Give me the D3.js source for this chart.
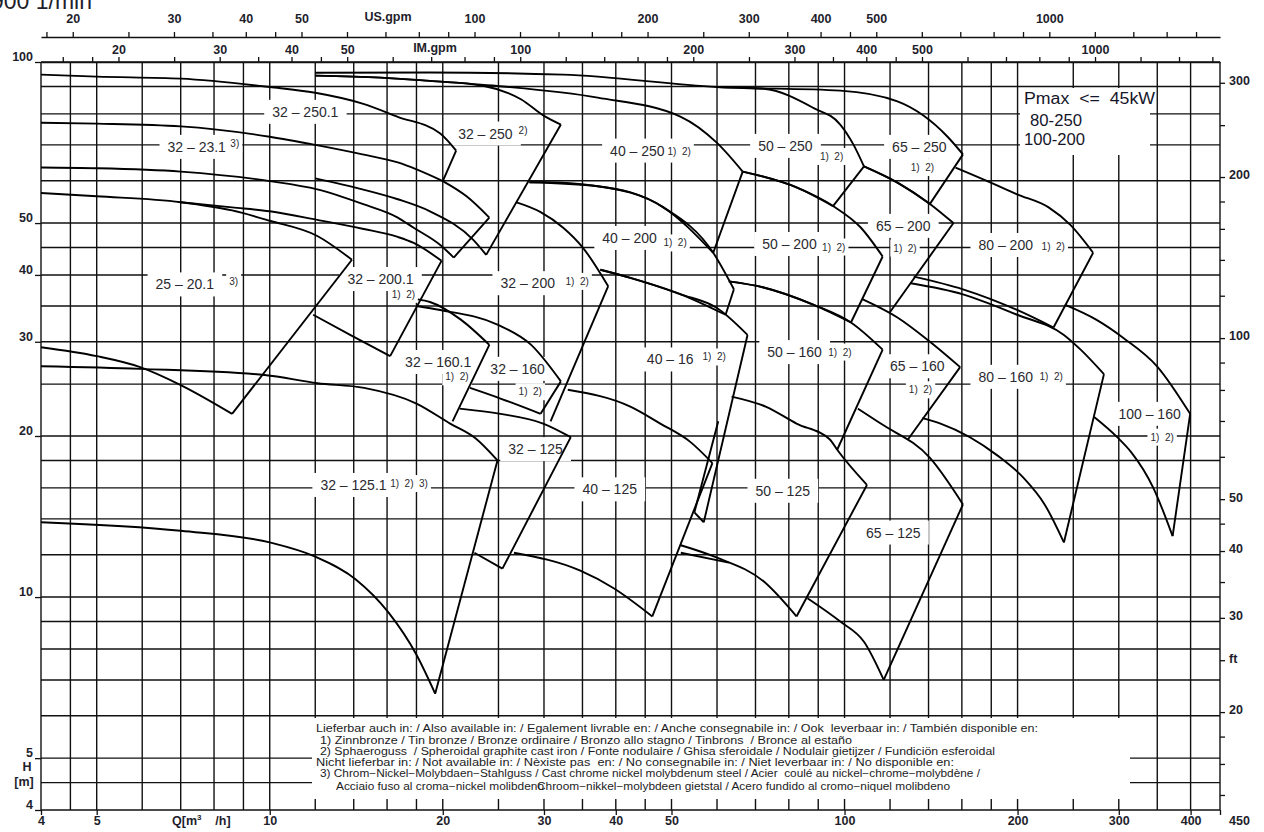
<!DOCTYPE html>
<html>
<head>
<meta charset="utf-8">
<script src="https://cdn.jsdelivr.net/npm/d3@7"></script>
<style>
  html, body { margin: 0; padding: 0; background: #fff; }
  svg { display: block; }
  text { font-family: "Liberation Sans", Arial, Helvetica, sans-serif; }
</style>
</head>
<body>
<svg id="chart" width="1264" height="832"></svg>
<script>
// ---- axis / grid values ----
const qGrid = [4,4.5,5,6,7,8,9,10,12,14,16,18,20,25,30,35,40,45,50,60,70,80,90,100,120,140,160,180,200,250,300,350,400,450];
const hGrid = [4,4.5,5,6,7,8,9,10,12,14,16,18,20,25,30,35,40,45,50,60,70,80,90,100];
const qTickLabels = [4,5,10,20,30,40,50,100,200,300,400,450];
const hTickLabels = [4,5,10,20,30,40,50,100];
const ftTicks = [14,16,18,20,25,30,35,40,45,50,60,70,80,90,100,120,140,160,180,200,250,300];
const ftTickLabels = [20,30,40,50,100,200,300];
const usGpmTicks = [18,20,25,30,35,40,45,50,60,70,80,90,100,120,140,160,180,200,250,300,350,400,450,500,600,700,800,900,1000,1200,1400,1600,1800];
const usGpmLabels = [20,30,40,50,100,200,300,400,500,1000];
const imGpmTicks = [16,18,20,25,30,35,40,45,50,60,70,80,90,100,120,140,160,180,200,250,300,350,400,450,500,600,700,800,900,1000,1200,1400,1600];
const imGpmLabels = [20,30,40,50,100,200,300,400,500,1000];

// ---- pump ranges: top = max impeller (Q m3/h, H m), bottom = min impeller ----
const tiles32 = [
  {name:"32-250.1", top:[[4,94.7],[5,93.9],[7,93.1],[10,89.8],[12,87.6],[14.5,83.6],[16.7,79.0],[19.8,73.5],[21.1,68.3]],
                    bottom:[[4,77],[5,76.7],[7,75.8],[10,72.5],[12,70],[14.5,67.2],[16.7,64.9],[20,59.9]]},
  {name:"32-23.1",  top:[[20,59.9],[22,56.1],[24.1,51.2]],
                    bottom:[[4,63.5],[5,63.3],[7,62.4],[10,59.9],[12.1,57.8],[14.5,54.3],[16.7,51.2],[17.8,49],[19.8,45.5],[20.9,43.1]]},
  {name:"25-20.1",  top:[[4,56.9],[5,56.1],[7,54.7],[8.6,52.8],[10,50.5],[12.1,47.3],[13.9,42.7]],
                    bottom:[[4,29.3],[5,28.2],[5.95,26.9],[7,24.9],[8.6,22]]},
  {name:"32-200.1", top:[[7,54.7],[8.6,53.5],[10,52.6],[12.1,50.7],[14.5,48.8],[16.7,47.1],[17.8,45.9],[19.9,42.5]],
                    bottom:[[11.9,33.7],[13.8,30.9],[16.2,28.2]]},
  {name:"32-250",   top:[[12,94.3],[15.6,93.5],[19,92.2],[23.6,90.2],[27.4,85.1],[30,79.3],[32.1,76.4]],
                    bottom:[[12,60.6],[14.5,57.8],[16.7,55.4],[19,52.6],[22.6,46.5],[23.8,43.6]]},
  {name:"32-200",   top:[[26.8,54.7],[29.6,52.4],[32.4,49],[35.1,44.9],[38.8,38.1]],
                    bottom:[[30.8,21.3]]},
  {name:"32-160.1", top:[[18.1,36],[19,35.6],[21.5,33],[24.1,29.6]],
                    bottom:[[20.8,21.3]]},
  {name:"32-160",   top:[[18,35],[19.8,34.4],[24.9,32.3],[28.5,29.6],[32.1,25.3]],
                    bottom:[[22.3,24.6],[25.2,23.5],[29.6,22]]},
  {name:"32-125.1", top:[[4,27],[5.95,26.7],[9.8,26],[12.1,25.1],[14.6,24.6],[18,23],[20.6,21.1],[22.8,19.8],[24.9,18]],
                    bottom:[[4,13.8],[7,13.3],[10,12.65],[12,11.9],[14.1,10.8],[16.1,9.35],[18,7.8],[19.4,6.6]]},
  {name:"32-125",   top:[[21.4,22.5],[25.2,22],[29.9,21.1],[33.4,19.9]],
                    bottom:[[22.7,12.1],[25.4,11.3]]}
];
const tiles40 = [
  {name:"40-250", top:[[12,94.3],[15.6,93.5],[19,92.2],[24.9,90.2],[37.2,85.8],[51.9,79],[60,70.6],[66.5,62.4]],
                  bottom:[[28.3,59.6],[29.9,59.6],[37.2,58.6],[48.4,53.5],[59.1,44]]},
  {name:"40-200", top:[[28.3,59.6],[37.2,58.6],[48.4,53.5],[59.1,44],[64.2,37.6]],
                  bottom:[[37.6,40.9],[42.4,39.5],[51.9,36.8],[62.1,33.7]]},
  {name:"40-160", top:[[37.6,40.9],[42.4,39.5],[51.9,36.8],[60,34.7],[67.8,30.9]],
                  bottom:[[54.8,14.4],[56.9,13.8]]},
  {name:"40-125", top:[[33,24.4],[42.4,22.7],[47.8,21.1],[53.9,19.5],[58.9,17.8]],
                  bottom:[[26.6,12.1],[34.7,11.2],[39.6,10.4],[46.3,9.2]]}
];
const tiles50 = [
  {name:"50-250", top:[[60,89.8],[72.3,89.1],[88.2,82.1],[98.3,76.4],[103.7,70],[108.1,63.8]],
                  bottom:[[66.5,62.4],[82.5,58.3],[95.5,53.8]]},
  {name:"50-200", top:[[66.5,62.4],[82.5,58.3],[95.5,53.8],[106.8,49],[116.5,43.3]],
                  bottom:[[62.9,38.9],[72.3,37.9],[88.2,35.2],[102.6,32.6]]},
  {name:"50-160", top:[[62.9,38.9],[72.3,37.9],[88.2,35.2],[102.6,32.6],[116.5,29]],
                  bottom:[[97.1,18.85]]},
  {name:"50-125", top:[[63.6,23.7],[72.9,22.7],[82.5,21.1],[94.3,19.7],[97.1,18.85],[109.4,16.2]],
                  bottom:[[51.9,12.5],[60,11.85],[72.3,10.7],[82.5,9.2]]}
];
const tiles65 = [
  {name:"65-250", top:[[12,95.5],[19,95.6],[32.4,94.7],[60,89.8],[98.3,88.4],[123.6,84.4],[151.1,72.5],[160.7,67.2]],
                  bottom:[[108.1,63.8],[123.6,59.5],[140.8,54.3]]},
  {name:"65-200", top:[[108.1,63.8],[123.6,59.5],[140.8,54.3],[154.7,50]],
                  bottom:[[120,34.1]]},
  {name:"65-160", top:[[107.6,36],[123.6,33.3],[140.8,30],[158.9,26.9]],
                  bottom:[[128.9,19.7]]},
  {name:"65-125", top:[[105.5,22.5],[115.6,21.1],[140.8,18.2],[160.7,14.9]],
                  bottom:[[86.2,9.95],[98.3,9],[108.1,8.25],[117,7]]}
];
const tiles80 = [
  {name:"80-200", top:[[156,63.5],[179.2,59.6],[199.6,56.6],[226.5,53.5],[247.1,49.6],[270.7,44]],
                  bottom:[[131.9,39.7],[160.7,37.6],[199.6,34.4],[231,31.9]]},
  {name:"80-160", top:[[130.4,38.6],[160.7,36.8],[199.6,33.7],[240.8,30.9],[257.5,29],[282.7,26.1]],
                  bottom:[[136.6,21.6],[146.9,21.1],[184.4,18.4],[204.9,16.7],[222.9,14.9],[240.8,12.65]]}
];
const tiles100 = [
  {name:"100-160", top:[[241.6,35.2],[274,33],[305.6,30.5],[349.7,27],[399.3,22]],
                   bottom:[[271.8,21.7],[298.1,19.9],[314.7,18.7],[344.5,16],[372.2,13]]}
];
// short impeller-limit strokes inside some ranges
const innerLimits = [
  [[60.3,21.3],[54.8,14.4]],
  [[51.9,12.1],[62.9,11.6]]
];

// ---- range captions (Q, H at left end / mid height) ----
const tileLabels = [
  {text:"32 – 250.1", q:10.1,  h:80.7},
  {text:"32 – 23.1",  q:6.64,  h:69.4},
  {text:"25 – 20.1",  q:6.33,  h:38.4},
  {text:"32 – 200.1", q:13.65, h:39.3},
  {text:"32 – 250",   q:21.27, h:73.5},
  {text:"40 – 250",   q:39.1,  h:68.3},
  {text:"50 – 250",   q:70.75, h:69.7},
  {text:"65 – 250",   q:121,   h:69.4},
  {text:"32 – 200",   q:25.2,  h:38.6},
  {text:"40 – 200",   q:37.9,  h:46.9},
  {text:"50 – 200",   q:71.9,  h:45.7},
  {text:"65 – 200",   q:113.4, h:49.4},
  {text:"80 – 200",   q:171,   h:45.5},
  {text:"32 – 160.1", q:17.2,  h:27.5},
  {text:"32 – 160",   q:24.2,  h:26.7},
  {text:"40 – 16",    q:45.3,  h:27.8},
  {text:"50 – 160",   q:73.4,  h:28.7},
  {text:"65 – 160",   q:120,   h:27.0},
  {text:"80 – 160",   q:171,   h:25.8},
  {text:"100 – 160",  q:299.6, h:22.0},
  {text:"32 – 125.1", q:12.25, h:16.2},
  {text:"32 – 125",   q:26.0,  h:18.9},
  {text:"40 – 125",   q:35,    h:15.9},
  {text:"50 – 125",   q:70,    h:15.8},
  {text:"65 – 125",   q:109,   h:13.2}
];
const noteLabels = [
  {text:"3)", q:8.54, h:70.3},
  {text:"3)", q:8.5, h:38.9},
  {text:"1)  2)", q:16.3, h:36.8},
  {text:"2)", q:27.1, h:74.6},
  {text:"1)  2)", q:49.2, h:68.0},
  {text:"1)  2)", q:90.6, h:66.6},
  {text:"1)  2)", q:130.4, h:63.5},
  {text:"1)  2)", q:32.7, h:38.9},
  {text:"1)  2)", q:48.4, h:45.9},
  {text:"1)  2)", q:91.4, h:45.1},
  {text:"1)  2)", q:121.6, h:44.9},
  {text:"1)  2)", q:220.2, h:45.3},
  {text:"1)  2)", q:20.2, h:25.8},
  {text:"1)  2)", q:27.1, h:24.2},
  {text:"1)  2)", q:56.6, h:28.1},
  {text:"1)  2)", q:93.7, h:28.7},
  {text:"1)  2)", q:129.4, h:24.4},
  {text:"1)  2)", q:218.4, h:25.8},
  {text:"1)  2)", q:340.6, h:19.9},
  {text:"1)  2)  3)", q:16.2, h:16.3}
];
const legendLines = [
  "Lieferbar auch in: / Also available in: / Egalement livrable en: / Anche consegnabile in: / Ook  leverbaar in: / También disponible en:",
  "1) Zinnbronze / Tin bronze / Bronze ordinaire / Bronzo allo stagno / Tinbrons  / Bronce al estaño",
  "2) Sphaeroguss  / Spheroidal graphite cast iron / Fonte nodulaire / Ghisa sferoidale / Nodulair gietijzer / Fundiciön esferoidal",
  "Nicht lieferbar in: / Not available in: / Nèxiste pas  en: / No consegnabile in: / Niet leverbaar in: / No disponible en:",
  "3) Chrom−Nickel−Molybdaen−Stahlguss / Cast chrome nickel molybdenum steel / Acier  coulé au nickel−chrome−molybdène /",
  "Acciaio fuso al croma−nickel molibdeno",
  "Chroom−nikkel−molybdeen gietstal / Acero fundido al cromo−niquel molibdeno"
];
const powerNote = ["Pmax  <=  45kW", "80-250", "100-200"];

// ---- scales ----
const M3H_TO_USGPM = 4.4029, M3H_TO_IMGPM = 3.6662, M_TO_FT = 3.28084;
const x = d3.scaleLog().domain([4, 450]).range([41, 1220]);
const y = d3.scaleLog().domain([4, 100]).range([810, 62]);
const xUS = d3.scaleLog().domain([4*M3H_TO_USGPM, 450*M3H_TO_USGPM]).range([41, 1220]);
const xIM = d3.scaleLog().domain([4*M3H_TO_IMGPM, 450*M3H_TO_IMGPM]).range([41, 1220]);
const yFt = d3.scaleLog().domain([4*M_TO_FT, 100*M_TO_FT]).range([810, 62]);

const INK = "#111";
const TXT = "#1e1e2c";
const svg = d3.select("#chart");
svg.append("rect").attr("width", 1264).attr("height", 832).attr("fill", "#fff");

const gGrid = svg.append("g");
const gBoxes = svg.append("g");
const gCurves = svg.append("g");
const gAxes = svg.append("g");
const gText = svg.append("g");

// grid
gGrid.selectAll("line.v").data(qGrid).join("line")
  .attr("x1", d => x(d)).attr("x2", d => x(d))
  .attr("y1", y(100)).attr("y2", y(4))
  .attr("stroke", INK).attr("stroke-width", 1.4);
gGrid.selectAll("line.h").data(hGrid).join("line")
  .attr("x1", x(4)).attr("x2", x(450))
  .attr("y1", d => y(d)).attr("y2", d => y(d))
  .attr("stroke", INK).attr("stroke-width", 1.4);

// axes
function styleAxis(g, size, weight) {
  g.selectAll("line").attr("stroke", INK).attr("stroke-width", 1.3);
  g.selectAll("path.domain").attr("stroke", INK).attr("stroke-width", 1.4);
  g.selectAll("text").attr("fill", TXT).style("font-size", size + "px").style("font-weight", weight)
    .style("font-family", "'Liberation Sans', Arial, sans-serif");
}
const axB = gAxes.append("g").attr("transform", `translate(0,${y(4)})`)
  .call(d3.axisBottom(x).tickValues(qTickLabels).tickSize(5).tickSizeOuter(0).tickPadding(1).tickFormat(d3.format("d")));
axB.select("path.domain").remove();
styleAxis(axB, 12.5, "bold");
axB.selectAll(".tick").filter(d => d === 450).select("text").attr("x", 19);

const axL = gAxes.append("g").attr("transform", `translate(${x(4)},0)`)
  .call(d3.axisLeft(y).tickValues(hTickLabels).tickSize(6).tickSizeOuter(0).tickPadding(2).tickFormat(d3.format("d")));
axL.select("path.domain").remove();
styleAxis(axL, 12.5, "bold");
axL.selectAll("text").attr("dy", "-0.1em");

const axR = gAxes.append("g").attr("transform", `translate(${x(450)},0)`)
  .call(d3.axisRight(yFt).tickValues(ftTicks).tickSize(5).tickSizeOuter(0).tickPadding(4)
    .tickFormat(d => d === 25 ? "ft" : (ftTickLabels.includes(d) ? d : "")));
axR.select("path.domain").remove();
styleAxis(axR, 12.5, "bold");
axR.selectAll("text").attr("dy", "0.15em");

const axUS = gAxes.append("g").attr("transform", "translate(0,37)")
  .call(d3.axisTop(xUS).tickValues(usGpmTicks).tickSize(5).tickSizeOuter(0).tickPadding(9)
    .tickFormat(d => usGpmLabels.includes(d) ? d : ""));
styleAxis(axUS, 12.5, "bold");

const axIM = gAxes.append("g").attr("transform", `translate(0,${y(100)})`)
  .call(d3.axisTop(xIM).tickValues(imGpmTicks).tickSize(5).tickSizeOuter(0).tickPadding(3)
    .tickFormat(d => imGpmLabels.includes(d) ? d : ""));
styleAxis(axIM, 12.5, "bold");

// axis titles
const bold = s => s.attr("fill", TXT).style("font-weight", "bold").style("font-size", "12.5px");
gText.append("text").attr("x", 388).attr("y", 21).attr("text-anchor", "middle").text("US.gpm").call(bold);
gText.append("text").attr("x", 435).attr("y", 52).attr("text-anchor", "middle").text("IM.gpm").call(bold);
gText.append("text").attr("x", 27).attr("y", 771).attr("text-anchor", "middle").text("H").call(bold);
gText.append("text").attr("x", 24).attr("y", 786).attr("text-anchor", "middle").text("[m]").call(bold);
const qt = gText.append("text").attr("x", 172).attr("y", 825).call(bold);
qt.append("tspan").text("Q[m");
qt.append("tspan").attr("dy", -5).style("font-size", "8px").text("3");
qt.append("tspan").attr("dy", 5).style("white-space", "pre").text("    /h]");
gText.append("text").attr("x", 92).attr("y", 9).attr("text-anchor", "end")
  .attr("fill", TXT).style("font-size", "23px").text("2900 1/min");

// curves
const smooth = d3.line().x(d => x(d[0])).y(d => y(d[1])).curve(d3.curveMonotoneX);
const straight = d3.line().x(d => x(d[0])).y(d => y(d[1]));
const allTiles = [...tiles32, ...tiles40, ...tiles50, ...tiles65, ...tiles80, ...tiles100];
const curveStyle = s => s.attr("fill", "none").attr("stroke", "#000").attr("stroke-width", 1.9)
  .attr("stroke-linejoin", "miter");
allTiles.forEach(t => {
  const g = gCurves.append("g").attr("class", "tile");
  g.append("path").attr("d", smooth(t.top)).call(curveStyle);
  if (t.bottom.length > 1) g.append("path").attr("d", smooth(t.bottom)).call(curveStyle);
  g.append("path").attr("d", straight([t.top[t.top.length - 1], t.bottom[t.bottom.length - 1]])).call(curveStyle);
});
innerLimits.forEach(l => gCurves.append("path").attr("d", straight(l)).call(curveStyle));

// captions with white backing
function boxed(list, size, padX, padY) {
  list.forEach(l => {
    const t = gText.append("text")
      .attr("x", x(l.q)).attr("y", y(l.h))
      .attr("dominant-baseline", "central")
      .attr("fill", "#2a2a30").style("font-size", size + "px").style("white-space", "pre")
      .text(l.text);
    const b = t.node().getBBox();
    gBoxes.append("rect").attr("x", b.x - padX).attr("y", b.y - padY)
      .attr("width", b.width + 2 * padX).attr("height", b.height + 2 * padY).attr("fill", "#fff");
  });
}
boxed(tileLabels, 14, 8, 4);
boxed(noteLabels, 10, 3, 3);

// power limit note (top right)
gBoxes.append("rect").attr("x", 1020).attr("y", 88).attr("width", 130).attr("height", 67).attr("fill", "#fff");
[[1024, 104, 131], [1030, 126, 52], [1024, 145, 61]].forEach((p, i) => {
  gText.append("text").attr("x", p[0]).attr("y", p[1]).attr("fill", "#16162a")
    .style("font-size", "16px").style("white-space", "pre")
    .attr("textLength", p[2]).attr("lengthAdjust", "spacingAndGlyphs").text(powerNote[i]);
});

// material legend (bottom)
gBoxes.append("rect").attr("x", 312).attr("y", 718).attr("width", 818).attr("height", 81).attr("fill", "#fff");
const legPos = [[316,731.5,722],[320,743.5,532],[320,754.5,675],[316,766,638],[320,776.5,660],[336,789.5,208],[537,789.5,413]];
legendLines.forEach((s, i) => {
  const p = legPos[i];
  gText.append("text").attr("x", p[0]).attr("y", p[1]).attr("fill", "#1c1c24")
    .style("font-size", "10px").style("white-space", "pre")
    .style("font-family", "'Liberation Sans Narrow', 'Arial Narrow', 'Liberation Sans', sans-serif")
    .attr("textLength", p[2]).attr("lengthAdjust", "spacingAndGlyphs").text(s);
});
</script>
</body>
</html>
